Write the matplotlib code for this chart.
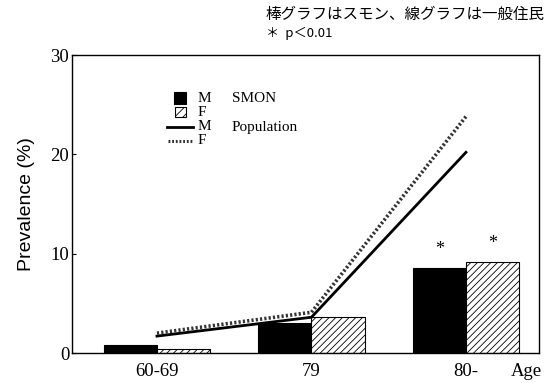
import matplotlib
matplotlib.use("Agg")
import matplotlib.pyplot as plt
import numpy as np
from matplotlib.patches import Rectangle
from matplotlib.lines import Line2D

# Age groups and prevalence (%)
age_groups = ["60-69", "79", "80-"]
smon_male = [0.8, 3.0, 8.6]
smon_female = [0.4, 3.6, 9.2]
pop_male = [1.7, 3.6, 20.2]
pop_female = [2.0, 4.1, 23.8]
significant = [False, False, True]
y_ticks = [0, 10, 20, 30]

plt.rcParams["hatch.linewidth"] = 0.6
serif = "Liberation Serif"
jp = ["Noto Sans CJK JP", "DejaVu Sans"]

fig = plt.figure(figsize=(5.45, 3.83), dpi=100)
ax = fig.add_axes([72 / 545, 1 - 353 / 383, (539 - 72) / 545, (353 - 55) / 383])

x = np.arange(len(age_groups))
w = 0.345

ax.bar(x - w / 2, smon_male, width=w, color="black", edgecolor="black", linewidth=0.8, zorder=2)
ax.bar(x + w / 2, smon_female, width=w, color="white", edgecolor="black", hatch="/////",
       linewidth=0.8, zorder=2)

ax.plot(x, pop_male, color="black", linewidth=2.0, zorder=3)
ax.plot(x, pop_female, color="#333333", linewidth=2.6, linestyle=(0, (0.6, 0.6)), zorder=3)

# significance marks above the SMON bars
for xi, m, f, sig in zip(x, smon_male, smon_female, significant):
    if sig:
        for xb, v in ((xi - w / 2, m), (xi + w / 2, f)):
            ax.annotate("*", (xb, v), xytext=(0, 10), textcoords="offset points",
                        ha="center", va="baseline", fontsize=13, family=serif)

ax.set_xlim(-0.55, 2.473)
ax.set_ylim(0, 30)
ax.set_yticks(y_ticks)
ax.set_yticklabels([str(t) for t in y_ticks], family=serif, fontsize=13.5)
ax.set_xticks(x)
ax.set_xticklabels(age_groups, family=serif, fontsize=13.5)
ax.tick_params(axis="x", length=0, pad=7)
ax.tick_params(axis="y", direction="in", length=3, width=0.8, pad=2)
for s in ax.spines.values():
    s.set_linewidth(1.0)

ax.set_ylabel("Prevalence (%)", family="Liberation Sans", fontsize=14, labelpad=11)
fig.text(511 / 545, 1 - 372 / 383, "Age", family=serif, fontsize=13.5, ha="left", va="center")

# legend block
def px(xp, yp):
    return xp / 545, 1 - yp / 383

legend_rows = [99, 112, 127, 141]
fig.patches.append(Rectangle(px(174, 104), 12 / 545, 12 / 383, transform=fig.transFigure,
                             facecolor="black", edgecolor="black", linewidth=0.8))
fig.patches.append(Rectangle(px(175, 117), 11 / 545, 10 / 383, transform=fig.transFigure,
                             facecolor="white", edgecolor="black", hatch="////", linewidth=0.8))
fig.lines.append(Line2D([px(167, 0)[0], px(193, 0)[0]], [px(0, 127)[1]] * 2,
                        transform=fig.transFigure, color="black", linewidth=2.0))
fig.lines.append(Line2D([px(168, 0)[0], px(193, 0)[0]], [px(0, 141)[1]] * 2,
                        transform=fig.transFigure, color="#333333", linewidth=2.2,
                        linestyle=(0, (0.6, 0.6))))
for yrow, sex in zip(legend_rows, ["M", "F", "M", "F"]):
    fig.text(*px(198, yrow), sex, family=serif, fontsize=11, ha="left", va="center")
fig.text(*px(232, legend_rows[0]), "SMON", family=serif, fontsize=11, ha="left", va="center")
fig.text(*px(232, legend_rows[2]), "Population", family=serif, fontsize=11, ha="left", va="center")

# notes above the plot
fig.text(*px(265, 14), "棒グラフはスモン、線グラフは一般住民", family=jp, fontsize=11.2,
         ha="left", va="center")
fig.text(*px(266, 33), "＊  p＜0.01", family=jp, fontsize=9.5, ha="left", va="center")

fig.savefig("out.png", dpi=100)
